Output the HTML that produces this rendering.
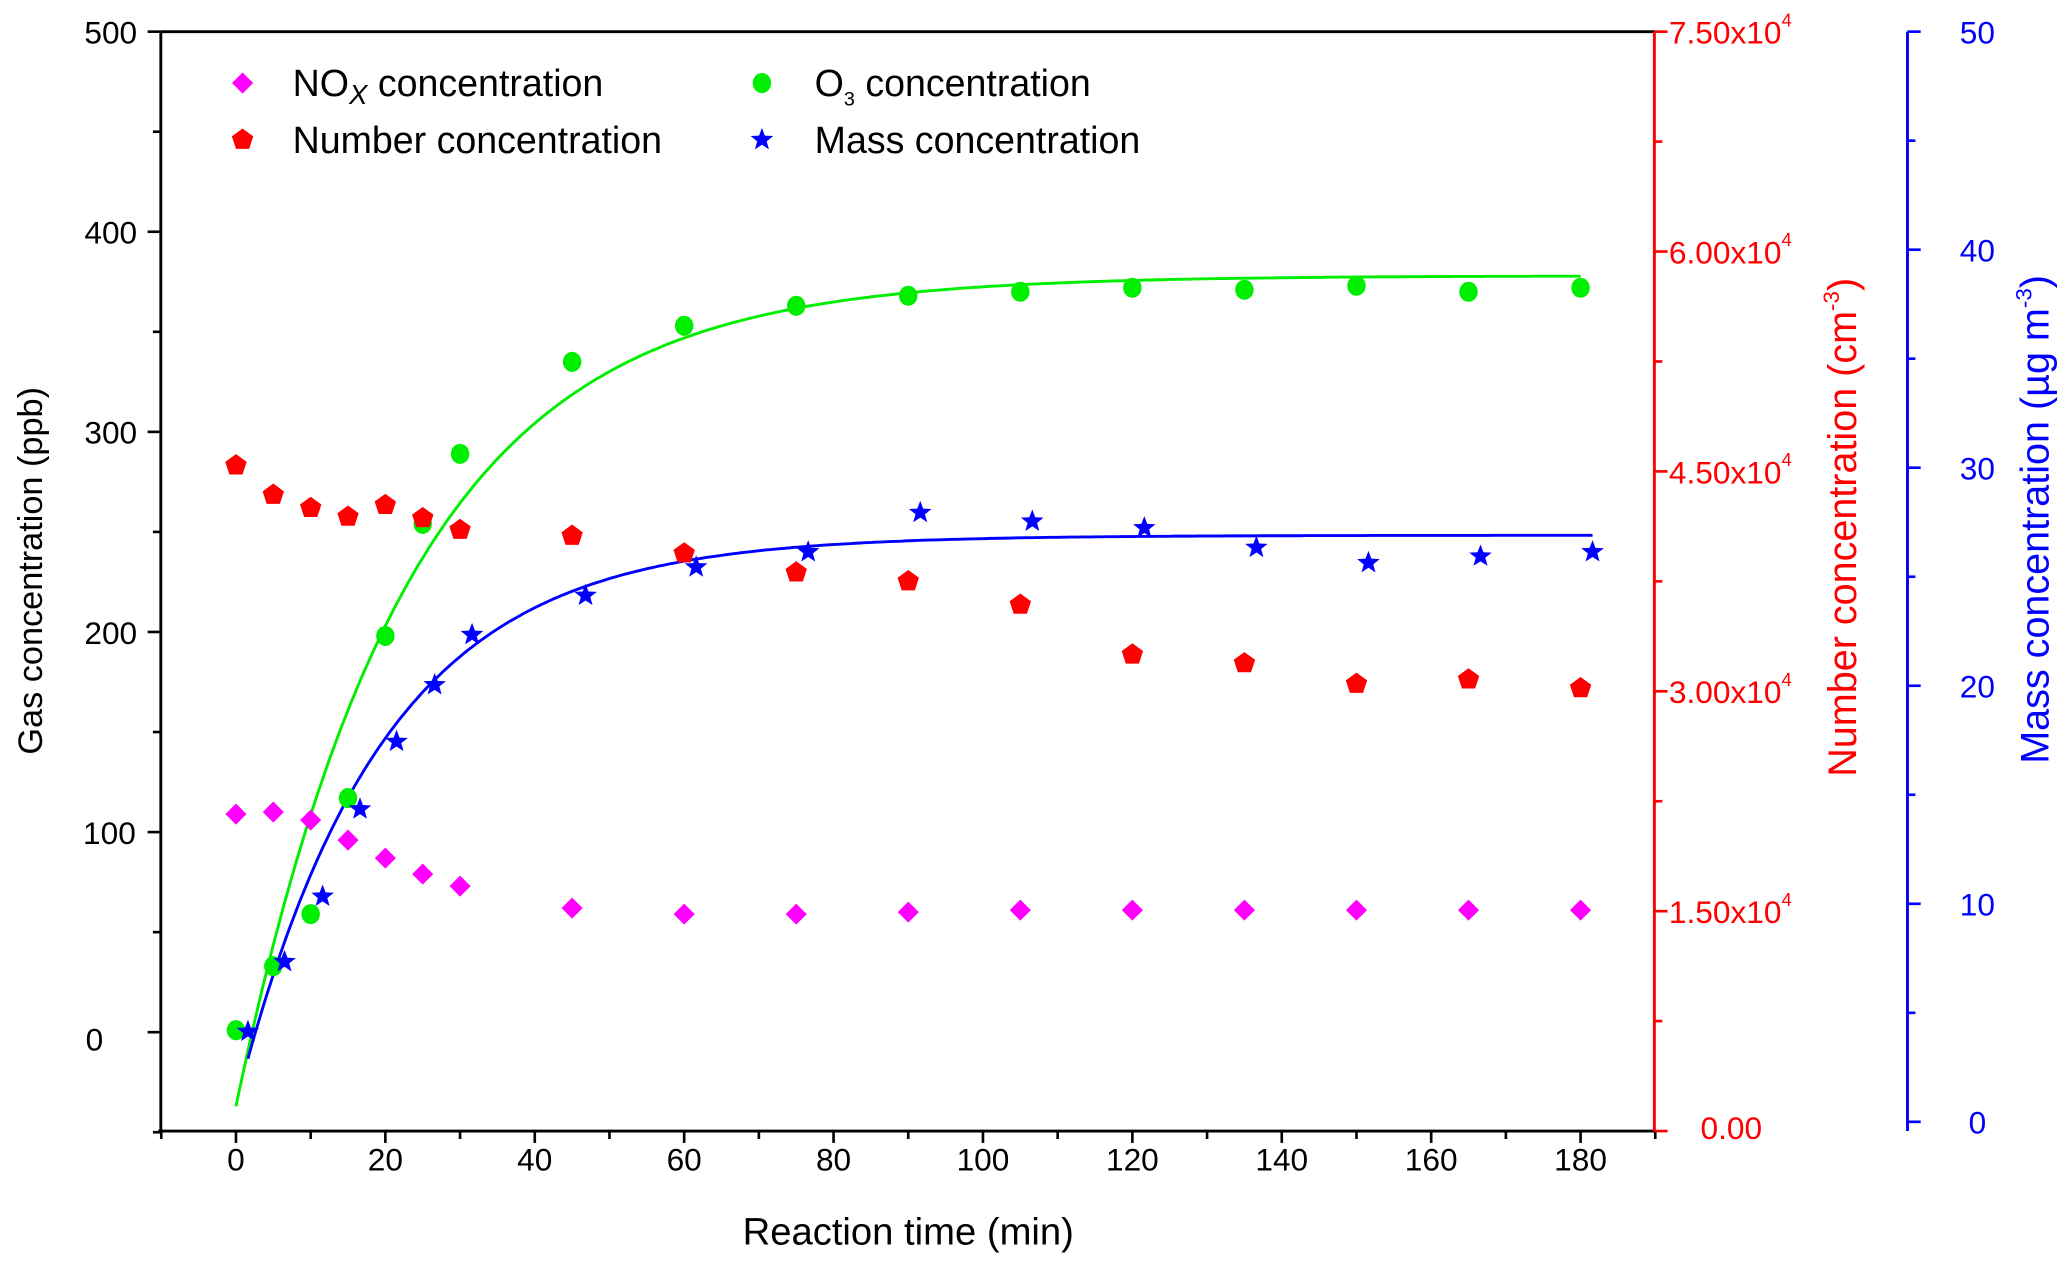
<!DOCTYPE html>
<html><head><meta charset="utf-8"><style>
html,body{margin:0;padding:0;background:#fff;}
svg{display:block;font-family:"Liberation Sans",Arial,sans-serif;}
</style></head><body>
<svg id="chart" width="2067" height="1265" viewBox="0 0 1568 959.6" xmlns="http://www.w3.org/2000/svg"></svg>
<script>
const times = [0,5,10,15,20,25,30,45,60,75,90,105,120,135,150,165,180];
const noxValues = [109,110,106,96,87,79,73,62,59,59,60,61,61,61,61,61,61];
const o3Values = [1,33,59,117,198,254,289,335,353,363,368,370,372,371,373,370,372];
const numberValues = [45500,43500,42600,42000,42800,41900,41100,40700,39500,38200,37600,36000,32600,32000,30600,30900,30300];
const massTimes = [1.6,6.5,11.6,16.6,21.5,26.6,31.6,46.8,61.6,76.6,91.6,106.6,121.6,136.6,151.6,166.6,181.6];
const massValues = [4.2,7.4,10.4,14.4,17.5,20.1,22.4,24.2,25.5,26.2,28.0,27.6,27.3,26.4,25.7,26.0,26.2];
const o3Fit = [378,1.098,0.0432];     // a, b, k : a(1-b e^{-kt})
const massFit = [26.9,0.969,0.0515];
const xTicks = [0,20,40,60,80,100,120,140,160,180];
const yTicks = [0,100,200,300,400,500];
const redTicks = [0,15000,30000,45000,60000,75000];
const redTickLabels = ["0.00","1.50x10","3.00x10","4.50x10","6.00x10","7.50x10"];
const blueTicks = [0,10,20,30,40,50];

const NS="http://www.w3.org/2000/svg";
const svg=document.getElementById('chart');
const L=122,R=1255,T=24,B=858,BX=1447;
const xs=t=>179+(t-0)*(1199-179)/180;
const ys=v=>783-v*(783-24)/500;
const yr=v=>858-v*(858-24)/75000;
const yb=v=>851-v*(851-24)/50;
function el(tag,attrs,parent){const e=document.createElementNS(NS,tag);for(const k in attrs)e.setAttribute(k,attrs[k]);(parent||svg).appendChild(e);return e;}
function txt(s,attrs,parent){const e=el('text',attrs,parent);e.textContent=s;return e;}

const axes=el('g',{});


el('line',{x1:L,y1:T,x2:R,y2:T,stroke:'#000','stroke-width':2.2},axes);
el('line',{x1:L,y1:T,x2:L,y2:B,stroke:'#000','stroke-width':2.2},axes);
el('line',{x1:L-2,y1:B,x2:R,y2:B,stroke:'#000','stroke-width':2.2},axes);
el('line',{x1:R,y1:T,x2:R,y2:B,stroke:'#f00','stroke-width':2.2},axes);
el('line',{x1:BX,y1:T,x2:BX,y2:B,stroke:'#00f','stroke-width':2.2},axes);
for(let t=-10;t<=190;t+=10){const maj=t%20===0;el('line',{x1:xs(t),y1:B,x2:xs(t),y2:B+(maj?9:6),stroke:'#000','stroke-width':2},axes);}
xTicks.forEach(t=>{const e=txt(String(t),{x:xs(t),y:B+30,'text-anchor':'middle','font-size':24});

});
for(let v=-50;v<=500;v+=50){const maj=v%100===0;el('line',{x1:L,y1:ys(v),x2:L-(maj?10:6),y2:ys(v),stroke:'#000','stroke-width':2},axes);}
yTicks.forEach(v=>{const e=txt(String(v),{x:v===0?65:(v===100?63:64),y:ys(v)+(v===0?14:9),'text-anchor':'start','font-size':24});

});
for(let v=0;v<=75000;v+=7500){const maj=v%15000===0;el('line',{x1:R,y1:yr(v),x2:R+(maj?10:6),y2:yr(v),stroke:'#f00','stroke-width':2},axes);}
redTicks.forEach((v,i)=>{
 const g=el('g',{});
 
 
 if(i===0){txt(redTickLabels[i],{x:1290,y:yr(v)+6,'font-size':24,fill:'#f00'},g);}
 else{const t=el('text',{x:1266,y:yr(v)+9,'font-size':24,fill:'#f00'},g);t.innerHTML=redTickLabels[i]+'<tspan font-size="14" dy="-13">4</tspan>';}
});
for(let v=0;v<=50;v+=5){const maj=v%10===0;el('line',{x1:BX,y1:yb(v),x2:BX+(maj?10:6),y2:yb(v),stroke:'#00f','stroke-width':2},axes);}
blueTicks.forEach(v=>{const e=txt(String(v),{x:1500,y:yb(v)+9,'text-anchor':'middle','font-size':24,fill:'#00f'});

});

let e;
e=txt('Gas concentration (ppb)',{x:0,y:0,transform:'translate(32,433) rotate(-90)','text-anchor':'middle','font-size':26});

e=txt('Reaction time (min)',{x:689,y:944,'text-anchor':'middle','font-size':29});

e=el('text',{transform:'translate(1408,400) rotate(-90)','text-anchor':'middle','font-size':30,fill:'#f00'});
e.innerHTML='Number concentration (cm<tspan dy="-13" font-size="17">-3</tspan><tspan dy="13">)</tspan>';

e=el('text',{transform:'translate(1554,394) rotate(-90)','text-anchor':'middle','font-size':30,fill:'#00f'});
e.innerHTML='Mass concentration (\u00b5g m<tspan dy="-13" font-size="17">-3</tspan><tspan dy="13">)</tspan>';


function diamond(x,y,p){return el('polygon',{points:`${x},${y-8} ${x+8},${y} ${x},${y+8} ${x-8},${y}`,fill:'#f0f'},p);}
function circle(x,y,p){return el('ellipse',{cx:x,cy:y,rx:7,ry:7.6,fill:'#0e0'},p);}
function pent(x,y,p){let pts=[];for(let i=0;i<5;i++){const a=-Math.PI/2+i*2*Math.PI/5;pts.push((x+8.5*Math.cos(a)).toFixed(1)+','+(y+1+8.5*Math.sin(a)).toFixed(1));}return el('polygon',{points:pts.join(' '),fill:'#f00'},p);}
function star(x,y,p){let pts=[];for(let i=0;i<10;i++){const r=i%2?3.8:9;const a=-Math.PI/2+i*Math.PI/5;pts.push((x+r*Math.cos(a)).toFixed(1)+','+(y+1+r*Math.sin(a)).toFixed(1));}return el('polygon',{points:pts.join(' '),fill:'#00f'},p);}

function fitPath(f,t0,t1,yfn){let d='';for(let t=t0;t<=t1+0.001;t+=0.5){const v=f[0]*(1-f[1]*Math.exp(-f[2]*t));d+=(d?'L':'M')+xs(t).toFixed(1)+','+yfn(v).toFixed(1);}return d;}
e=el('path',{d:fitPath(o3Fit,0,180,ys),fill:'none',stroke:'#0e0','stroke-width':2.2});

e=el('path',{d:fitPath(massFit,1.6,182,yb),fill:'none',stroke:'#00f','stroke-width':2.2});


const gN=el('g',{});
times.forEach((t,i)=>{const m=diamond(xs(t),ys(noxValues[i]),gN);});
const gO=el('g',{});
times.forEach((t,i)=>{const m=circle(xs(t),ys(o3Values[i]),gO);});
const gP=el('g',{});
times.forEach((t,i)=>{const m=pent(xs(t),yr(numberValues[i]),gP);});
const gM=el('g',{});
massTimes.forEach((t,i)=>{const m=star(xs(t),yb(massValues[i]),gM);});

const lg=el('g',{});
let le;
le=el('g',{},lg);
diamond(184,63,le);
let tt=txt('',{x:222,y:73,'font-size':28.5},le);tt.innerHTML='NO<tspan font-style="italic" font-size="21" dy="6">X</tspan><tspan dy="-6">  concentration</tspan>';
le=el('g',{},lg);
pent(184,105,le);txt('Number concentration',{x:222,y:116,'font-size':28.5},le);
le=el('g',{},lg);
circle(578,63,le);
tt=txt('',{x:618,y:73,'font-size':28.5},le);tt.innerHTML='O<tspan font-size="15" dy="7">3</tspan><tspan dy="-7"> concentration</tspan>';
le=el('g',{},lg);
star(578,105,le);txt('Mass concentration',{x:618,y:116,'font-size':28.5},le);
</script>
</body></html>
